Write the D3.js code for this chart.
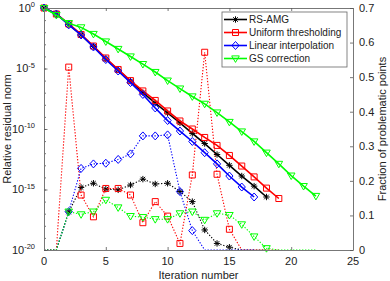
<!DOCTYPE html>
<html>
<head>
<meta charset="utf-8">
<script src="https://cdn.jsdelivr.net/npm/d3@7"></script>
<style>
  html, body { margin: 0; padding: 0; background: #fff; overflow: hidden; }
  svg { display: block; font-family: "Liberation Sans", Arial, sans-serif; }
</style>
</head>
<body>
<svg id="chartSvg" width="390" height="281"></svg>
<script>
// ---- data ----
const iterationTicks = [0, 5, 10, 15, 20, 25];
const residualTicks = [1e0, 1e-5, 1e-10, 1e-15, 1e-20];
const fractionTicks = [0, 0.1, 0.2, 0.3, 0.4, 0.5, 0.6, 0.7];

const seriesNames = ["RS-AMG", "Uniform thresholding", "Linear interpolation", "GS correction"];
const seriesColors = ["#000000", "#ff0000", "#0000ff", "#00ff00"];
const seriesMarkers = ["asterisk", "square", "diamond", "triangle"];

// relative residual norm per iteration (left axis, solid)
const rsAmgResidual = [1, 3.2e-1, 4.4e-2, 5.9e-3, 6.6e-4, 6.2e-5, 7.6e-6, 9.3e-7, 1.0e-7, 1.4e-8,
  2.1e-9, 3.2e-10, 4.3e-11, 6.3e-12, 7.8e-13, 1.0e-13, 1.3e-14, 1.9e-15, 2.4e-16];
const uniformResidual = [1, 3.2e-1, 4.8e-2, 6.5e-3, 7.2e-4, 7.4e-5, 8.3e-6, 1.0e-6, 1.4e-7, 2.3e-8,
  3.1e-9, 4.6e-10, 1.0e-10, 2.0e-11, 4.4e-12, 6.5e-13, 8.7e-14, 1.1e-14, 1.3e-15, 1.8e-16];
const linearResidual = [1, 3.2e-1, 4.0e-2, 5.9e-3, 6.0e-4, 5.5e-5, 6.2e-6, 6.9e-7, 7.1e-8, 5.5e-9,
  5.0e-10, 6.8e-11, 9.3e-12, 1.1e-12, 1.3e-13, 1.3e-14, 1.6e-15, 2.4e-16];
const gsResidual = [1, 2.6e-1, 5.6e-2, 2.5e-2, 7.1e-3, 1.7e-3, 4.1e-4, 9.8e-5, 2.3e-5, 5.1e-6,
  1.0e-6, 2.2e-7, 4.9e-8, 1.2e-8, 2.3e-9, 3.8e-10, 6.2e-11, 9.3e-12, 1.1e-12, 1.3e-13,
  1.4e-14, 1.9e-15, 2.9e-16];

// fraction of problematic points per iteration (right axis, dotted)
const rsAmgFraction = [0, 0, 0.11, 0.181, 0.193, 0.176, 0.174, 0.188, 0.205, 0.191,
  0.193, 0.169, 0.14, 0.058, 0.019, 0.008, 0, 0, 0];
const uniformFraction = [0, 0, 0.529, 0.159, 0.096, 0.178, 0.178, 0.159, 0.079, 0.14,
  0.098, 0.019, 0.217, 0.572, 0.219, 0.06, 0, 0, 0, 0];
const linearFraction = [0, 0, 0.111, 0.236, 0.249, 0.251, 0.262, 0.278, 0.33, 0.33,
  0.333, 0.169, 0.056, 0, 0, 0, 0, 0];
const gsFraction = [0, 0, 0.111, 0.103, 0.111, 0.145, 0.123, 0.098, 0.095, 0.089,
  0.089, 0.106, 0.111, 0.087, 0.106, 0.101, 0.074, 0.039, 0.005, 0, 0, 0, 0];

const residualSeries = [rsAmgResidual, uniformResidual, linearResidual, gsResidual];
const fractionSeries = [rsAmgFraction, uniformFraction, linearFraction, gsFraction];

// ---- layout ----
const svg = d3.select("#chartSvg");
const width = +svg.attr("width");
const height = +svg.attr("height");
const margin = { top: 8, right: 37, bottom: 31, left: 44 };
const plotLeft = margin.left;
const plotRight = width - margin.right;
const plotTop = margin.top;
const plotBottom = height - margin.bottom;
const textColor = "#222";

function createScales() {
    const xScale = d3.scaleLinear().domain([0, 25]).range([plotLeft, plotRight]);
    const yLeft = d3.scaleLog().domain([1e-20, 1]).range([plotBottom, plotTop]);
    const yRight = d3.scaleLinear().domain([0, 0.7]).range([plotBottom, plotTop]);
    return { xScale, yLeft, yRight };
}

function markerPath(shape) {
    if (shape === "asterisk") {
        const r = 3.2, s = 2.3;
        return `M${-r},0L${r},0M0,${-r}L0,${r}M${-s},${-s}L${s},${s}M${-s},${s}L${s},${-s}`;
    }
    if (shape === "square") return "M-3,-3H3V3H-3Z";
    if (shape === "diamond") return "M0,-4L3.6,0L0,4L-3.6,0Z";
    return "M-3.8,-2.6L3.8,-2.6L0,3.9Z";
}

function addText(x, y, str, anchor, size) {
    return svg.append("text")
        .attr("x", x).attr("y", y)
        .attr("text-anchor", anchor)
        .attr("font-size", size)
        .attr("fill", textColor)
        .text(str);
}

function renderAxes(xScale, yLeft, yRight) {
    const decades = d3.range(0, 21).map(k => Math.pow(10, -k));
    const axes = [
        svg.append("g").attr("transform", `translate(0,${plotBottom})`)
            .call(d3.axisBottom(xScale).tickValues(iterationTicks).tickSizeInner(-3).tickSizeOuter(0).tickFormat("")),
        svg.append("g").attr("transform", `translate(0,${plotTop})`)
            .call(d3.axisTop(xScale).tickValues(iterationTicks).tickSizeInner(-3).tickSizeOuter(0).tickFormat("")),
        svg.append("g").attr("transform", `translate(${plotLeft},0)`)
            .call(d3.axisLeft(yLeft).tickValues(decades).tickSizeInner(-2).tickSizeOuter(0).tickFormat("")),
        svg.append("g").attr("transform", `translate(${plotLeft},0)`)
            .call(d3.axisLeft(yLeft).tickValues(residualTicks).tickSizeInner(-3.5).tickSizeOuter(0).tickFormat("")),
        svg.append("g").attr("transform", `translate(${plotRight},0)`)
            .call(d3.axisRight(yRight).tickValues(fractionTicks).tickSizeInner(-3).tickSizeOuter(0).tickFormat(""))
    ];
    axes.forEach(a => {
        a.selectAll(".tick text").remove();
        a.selectAll(".domain").attr("stroke", "#777").attr("stroke-width", 1);
        a.selectAll(".tick line").attr("stroke", "#555").attr("stroke-width", 0.8);
    });

    // tick labels, placed through the scales
    iterationTicks.forEach(d => addText(xScale(d), plotBottom + 15, d, "middle", 11));

    residualTicks.forEach(d => {
        const t = addText(plotLeft - 9, yLeft(d) + 3.5, null, "end", 11);
        t.append("tspan").text("10");
        t.append("tspan").attr("dy", -4.5).attr("font-size", 7.5).text(Math.round(Math.log10(d)));
    });

    fractionTicks.forEach(d =>
        addText(plotRight + 6, yRight(d) + 3.8, d === 0 ? "0" : d.toFixed(1), "start", 11));

    // axis titles
    const midY = (plotTop + plotBottom) / 2;
    addText((plotLeft + plotRight) / 2, height - 2, "Iteration number", "middle", 11);
    addText(10.5, midY, "Relative residual norm", "middle", 11)
        .attr("transform", `rotate(-90,10.5,${midY})`);
    addText(385.5, midY, "Fraction of problematic points", "middle", 11)
        .attr("transform", `rotate(-90,385.5,${midY})`);
}

function renderSeries(g, values, xScale, yScale, color, shape, dotted, hideZeros) {
    const line = d3.line()
        .x((d, i) => xScale(i))
        .y(d => yScale(d));

    g.append("path")
        .datum(values)
        .attr("fill", "none")
        .attr("stroke", color)
        .attr("stroke-width", dotted ? 1.1 : 1.6)
        .attr("stroke-dasharray", dotted ? "1.3,1.7" : null)
        .attr("d", line);

    g.append("g")
        .selectAll("path")
        .data(values.map((v, i) => ({ v, i })).filter(p => !hideZeros || p.v > 0))
        .enter()
        .append("path")
        .attr("transform", p => `translate(${xScale(p.i)},${yScale(p.v)})`)
        .attr("d", markerPath(shape))
        .attr("fill", "none")
        .attr("stroke", color)
        .attr("stroke-width", 1);
}

function renderLegend() {
    const lx = 222, ly = 12;
    svg.append("rect")
        .attr("x", lx).attr("y", ly)
        .attr("width", 125).attr("height", 55)
        .attr("fill", "#fff").attr("stroke", "#666").attr("stroke-width", 0.8);

    seriesNames.forEach((name, k) => {
        const y = ly + 7.5 + k * 13;
        svg.append("line")
            .attr("x1", lx + 2).attr("x2", lx + 25).attr("y1", y).attr("y2", y)
            .attr("stroke", seriesColors[k]).attr("stroke-width", 1.6);
        svg.append("path")
            .attr("transform", `translate(${lx + 13.5},${y})`)
            .attr("d", markerPath(seriesMarkers[k]))
            .attr("fill", "none").attr("stroke", seriesColors[k]).attr("stroke-width", 1);
        addText(lx + 27, y + 3.6, name, "start", 10);
    });
}

function render() {
    const { xScale, yLeft, yRight } = createScales();
    const g = svg.append("g");

    fractionSeries.forEach((values, k) =>
        renderSeries(g, values, xScale, yRight, seriesColors[k], seriesMarkers[k], true, true));
    residualSeries.forEach((values, k) =>
        renderSeries(g, values, xScale, yLeft, seriesColors[k], seriesMarkers[k], false, false));

    renderAxes(xScale, yLeft, yRight);
    renderLegend();
}

render();
</script>
</body>
</html>
